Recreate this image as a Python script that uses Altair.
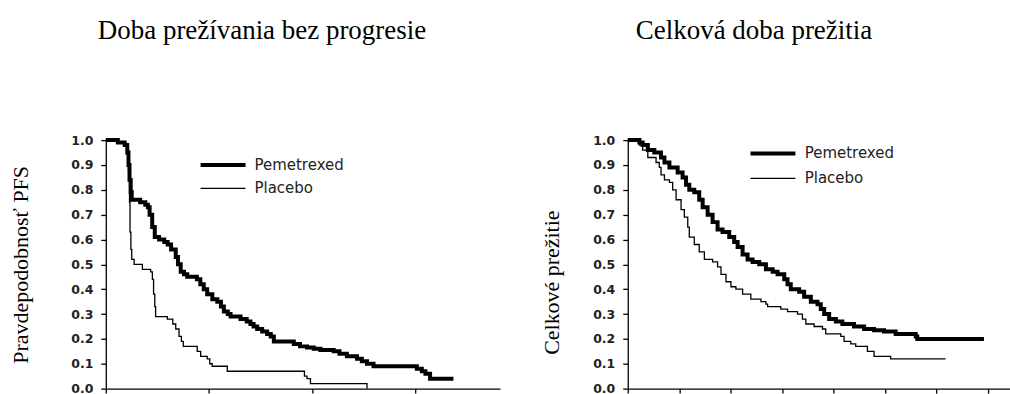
import altair as alt
import pandas as pd

# ---------------- data (months, survival probability) ----------------
pfs_pem_t = [0, 0.7, 1.1, 1.25, 1.32, 1.38, 1.45, 1.51, 2.0, 2.3, 2.45, 2.55, 2.7, 2.85, 3.1, 3.4,
             3.6, 3.8, 4.07, 4.2, 4.36, 4.55, 4.74, 5.3, 5.5, 5.7, 5.9, 6.2, 6.49, 6.7, 6.87, 7.1,
             7.26, 7.84, 8.2, 8.42, 8.6, 8.81, 9.1, 9.39, 9.6, 9.78, 10.94, 11.3, 11.71, 12.1,
             12.49, 13.26, 13.6, 14.03, 14.62, 14.9, 15.2, 15.58, 18.1, 18.39, 18.6, 18.87, 20.23]
pfs_pem_s = [1.0, 0.99, 0.98, 0.95, 0.90, 0.84, 0.79, 0.76, 0.75, 0.74, 0.73, 0.70, 0.65, 0.61, 0.60, 0.59,
             0.58, 0.56, 0.53, 0.50, 0.47, 0.46, 0.45, 0.44, 0.42, 0.40, 0.38, 0.36, 0.35, 0.33, 0.31, 0.30,
             0.29, 0.28, 0.27, 0.26, 0.25, 0.24, 0.23, 0.22, 0.21, 0.19, 0.18, 0.17, 0.165, 0.16,
             0.155, 0.15, 0.14, 0.13, 0.12, 0.11, 0.10, 0.09, 0.08, 0.07, 0.06, 0.04, 0.04]

pfs_pla_t = [0, 0.7, 1.1, 1.25, 1.32, 1.38, 1.41, 1.46, 1.51, 1.65, 2.13, 2.61, 2.71, 2.78, 2.85, 2.90,
             3.58, 3.9, 4.07, 4.26, 4.4, 4.51, 5.32, 5.52, 5.90, 6.05, 6.19, 7.07, 11.56, 11.71, 11.91,
             15.2]
pfs_pla_s = [1.0, 0.99, 0.98, 0.95, 0.88, 0.75, 0.63, 0.56, 0.52, 0.50, 0.48, 0.47, 0.44, 0.38, 0.33, 0.29,
             0.28, 0.26, 0.24, 0.21, 0.19, 0.17, 0.15, 0.13, 0.12, 0.10, 0.09, 0.07, 0.05, 0.04, 0.02,
             0.0]

os_pem_t = [0, 0.68, 0.87, 1.17, 1.55, 1.94, 2.14, 2.43, 2.91, 3.20, 3.40, 3.59, 3.88, 4.17, 4.37, 4.66,
            4.95, 5.24, 5.53, 5.92, 6.21, 6.41, 6.70, 6.99, 7.28, 7.67, 8.06, 8.45, 8.74, 9.13, 9.32,
            9.51, 10.0, 10.29, 10.68, 11.07, 11.26, 11.46, 11.75, 12.14, 12.52, 13.2, 13.79, 14.37,
            14.95, 15.63, 16.8, 16.89, 20.78]
os_pem_s = [1.0, 0.99, 0.98, 0.96, 0.95, 0.93, 0.91, 0.89, 0.87, 0.85, 0.82, 0.80, 0.79, 0.76, 0.73, 0.70,
            0.67, 0.64, 0.63, 0.61, 0.59, 0.57, 0.54, 0.52, 0.51, 0.50, 0.48, 0.47, 0.46, 0.44, 0.42,
            0.40, 0.39, 0.37, 0.35, 0.34, 0.32, 0.30, 0.28, 0.27, 0.26, 0.25, 0.24, 0.235,
            0.23, 0.22, 0.21, 0.20, 0.20]

os_pla_t = [0, 0.68, 0.87, 1.17, 1.65, 1.84, 1.94, 2.14, 2.43, 2.62, 2.82, 3.11, 3.30, 3.50, 3.59, 3.88,
            4.17, 4.47, 4.95, 5.24, 5.44, 5.73, 6.02, 6.31, 6.70, 7.18, 7.77, 8.06, 8.16, 8.93, 9.32,
            9.90, 10.19, 10.39, 10.87, 11.36, 11.55, 12.43, 12.62, 13.01, 13.3, 13.98, 14.37, 15.34,
            18.54]
os_pla_s = [1.0, 0.98, 0.96, 0.93, 0.91, 0.89, 0.86, 0.84, 0.83, 0.80, 0.76, 0.72, 0.69, 0.65, 0.61, 0.58,
            0.55, 0.52, 0.51, 0.49, 0.46, 0.43, 0.41, 0.40, 0.38, 0.36, 0.35, 0.34, 0.33, 0.32, 0.31,
            0.30, 0.28, 0.26, 0.25, 0.24, 0.22, 0.21, 0.19, 0.18, 0.17, 0.15, 0.13, 0.12,
            0.12]

series_names = ["Pemetrexed", "Placebo"]
y_ticks = [0.0, 0.1, 0.2, 0.3, 0.4, 0.5, 0.6, 0.7, 0.8, 0.9, 1.0]
pfs_x_ticks = [0, 6, 12, 18]
os_x_ticks = [0, 3, 6, 9, 12, 15, 18, 21]
titles = ["Doba prežívania bez progresie", "Celková doba prežitia"]
y_titles = ["Pravdepodobnosť PFS", "Celkové prežitie"]


def make_df(t1, s1, t2, s2):
    rows = []
    for name, ts, ss in ((series_names[0], t1, s1), (series_names[1], t2, s2)):
        for i, (t, s) in enumerate(zip(ts, ss)):
            rows.append({"t": t, "s": s, "grp": name, "i": i})
    return pd.DataFrame(rows)


pfs_df = make_df(pfs_pem_t, pfs_pem_s, pfs_pla_t, pfs_pla_s)
os_df = make_df(os_pem_t, os_pem_s, os_pla_t, os_pla_s)

H = 249


def panel(df, width, xdomain, xticks, title, title_dx, ytitle, ytitle_x, ytitle_y, leg):
    y_axis = alt.Axis(values=y_ticks, format=".1f", grid=False,
                      labelFont="DejaVu Sans", labelFontSize=12.5, labelFontWeight="bold",
                      labelColor="#222222", labelPadding=8,
                      tickSize=5, tickColor="black", tickWidth=1.3,
                      domainColor="black", domainWidth=1.3,
                      title=ytitle, titleFont="Liberation Serif", titleFontSize=22,
                      titleFontWeight="normal", titleColor="black",
                      titleX=ytitle_x, titleY=ytitle_y, titleAngle=270,
                      titleAlign="center", titleBaseline="bottom")
    x_axis = alt.Axis(values=xticks, labels=False, grid=False, title=None,
                      tickSize=4.5, tickColor="black", tickWidth=1.3,
                      domainColor="black", domainWidth=1.3)
    lines = alt.Chart(df).mark_line(interpolate="step-after", color="black", strokeCap="butt").encode(
        x=alt.X("t:Q", scale=alt.Scale(domain=xdomain, nice=False, zero=False), axis=x_axis),
        y=alt.Y("s:Q", scale=alt.Scale(domain=[0, 1], nice=False), axis=y_axis),
        strokeWidth=alt.StrokeWidth("grp:N", scale=alt.Scale(domain=series_names, range=[4, 1.3]),
                                    legend=None),
        order=alt.Order("i:Q"),
    )
    lx0, lx1, ly0, ly1, tx = leg
    legend_df = pd.DataFrame({"label": series_names})
    layers = [lines]
    for k, (ly, sw) in enumerate(((ly0, 4), (ly1, 1.3))):
        d = legend_df.iloc[[k]]
        layers.append(alt.Chart(d).mark_rule(color="black", strokeWidth=sw, strokeCap="butt").encode(
            x=alt.value(lx0), x2=alt.value(lx1), y=alt.value(ly)))
        layers.append(alt.Chart(d).mark_text(align="left", baseline="middle", font="DejaVu Sans",
                                             fontSize=15, color="#222222").encode(
            x=alt.value(tx), y=alt.value(ly), text="label:N"))
    return alt.layer(*layers).properties(
        width=width, height=H,
        title=alt.TitleParams(title, font="Liberation Serif", fontSize=27, fontWeight="normal",
                              color="black", anchor="middle", frame="group", dx=title_dx,
                              baseline="bottom", offset=60),
    )


left = panel(pfs_df, 395, [0, 22.94], pfs_x_ticks, titles[0], -41, y_titles[0], -73, H / 2,
             (95, 140, 25, 48.3, 149))
right = panel(os_df, 383, [0, 22.3], os_x_ticks, titles[1], -65, y_titles[1], -64, 142.3,
              (123, 168, 13.3, 38.3, 177.3))

chart = alt.hconcat(left, right, spacing=41).resolve_scale(x="independent", y="independent").properties(
    padding={"left": 10, "top": 17, "right": 0, "bottom": 0},
    background="white",
).configure_view(stroke=None)

chart.save("out.html", embed_options={"renderer": "svg", "actions": False})
